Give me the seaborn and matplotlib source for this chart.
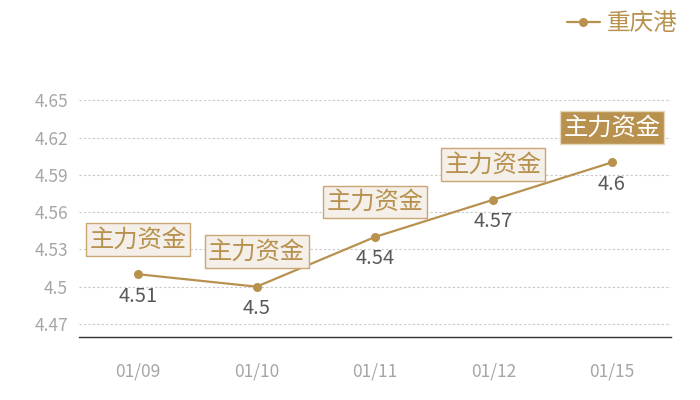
import matplotlib
matplotlib.use("Agg")
import matplotlib.pyplot as plt
import pandas as pd
import seaborn as sns

# chart data
dates = ["01/09", "01/10", "01/11", "01/12", "01/15"]
prices = [4.51, 4.50, 4.54, 4.57, 4.60]
value_labels = ["4.51", "4.5", "4.54", "4.57", "4.6"]
tag_text = "主力资金"
series_name = "重庆港"
y_ticks = [4.47, 4.50, 4.53, 4.56, 4.59, 4.62, 4.65]
y_tick_labels = ["4.47", "4.5", "4.53", "4.56", "4.59", "4.62", "4.65"]

GOLD = "#b8914f"
TICK_GREY = "#a6a6a6"
VALUE_GREY = "#595959"

sns.set_theme(style="white")
plt.rcParams["font.family"] = ["Noto Sans CJK SC", "DejaVu Sans"]

df = pd.DataFrame({"date": dates, "price": prices})
df["pos"] = range(len(df))

fig = plt.figure(figsize=(7, 4), dpi=100)
ax = fig.add_axes([79 / 700, 63 / 400, (671 - 79) / 700, (337 - 63) / 400])

sns.lineplot(data=df, x="pos", y="price", ax=ax, color=GOLD, linewidth=1.6,
             marker="o", markersize=6.5, markeredgewidth=0, label=series_name)

ax.set_xlim(-0.5, len(dates) - 0.5)
ax.set_ylim(4.4595, 4.68)
ax.set_yticks(y_ticks)
ax.set_yticklabels(y_tick_labels)
ax.set_xticks(df["pos"])
ax.set_xticklabels(dates)
ax.tick_params(axis="y", colors=TICK_GREY, labelsize=12.5, length=0, pad=8)
ax.tick_params(axis="x", colors=TICK_GREY, labelsize=12.5, length=0, pad=18)
ax.yaxis.grid(True, linestyle=(0, (2, 2)), color="#c8c8c8", linewidth=0.8)
ax.set_xlabel("")
ax.set_ylabel("")
for side in ["top", "right", "left"]:
    ax.spines[side].set_visible(False)
ax.spines["bottom"].set_color("#333333")
ax.spines["bottom"].set_linewidth(1.0)

# value labels below points, tags above
last = len(df) - 1
for i, row in df.iterrows():
    ax.annotate(value_labels[i], (row["pos"], row["price"]), xytext=(0, -22),
                textcoords="offset pixels", ha="center", va="center",
                fontsize=14.5, color=VALUE_GREY)
    if i == last:
        box = dict(boxstyle="square,pad=0.14", facecolor=GOLD, edgecolor="#e6d7bd", linewidth=1)
        tcolor = "white"
    else:
        box = dict(boxstyle="square,pad=0.14", facecolor="#f4efe8", edgecolor="#c9a673", linewidth=1)
        tcolor = GOLD
    ax.annotate(tag_text, (row["pos"], row["price"]), xytext=(0, 35),
                textcoords="offset pixels", ha="center", va="center",
                fontsize=17.5, color=tcolor, bbox=box)

leg = ax.legend(loc="upper right", bbox_to_anchor=(692 / 700, 1.005), bbox_transform=fig.transFigure,
                frameon=False, fontsize=17, handlelength=1.4, handletextpad=0.3, borderaxespad=0.2)
for t in leg.get_texts():
    t.set_color(GOLD)

fig.savefig("out.png", dpi=100)
